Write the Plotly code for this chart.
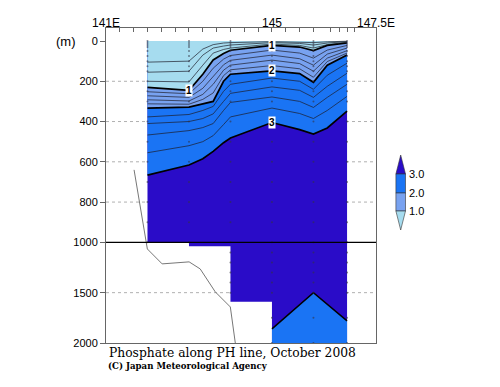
import plotly.graph_objects as go

# ---------------- data ----------------
# along-section positions (axis units; 141E = 0, 145 = 12, 147.5E = 18)
XS = [3, 6, 7, 7.75, 8.5, 9, 12, 14, 15, 16, 17.43]
# depth (m) of phosphate isolines (umol/kg) at XS
ISO_04 = [105, 100, 40, 18, 10, 8, 3, 5, 8, 4, 1]
ISO_06 = [155, 150, 70, 35, 25, 20, 8, 12, 20, 10, 3]
ISO_08 = [200, 203, 120, 60, 42, 35, 15, 22, 35, 18, 6]
ISO_10 = [230, 245, 165, 94, 62, 46, 22, 30, 48, 22, 10]
ISO_12 = [252, 262, 200, 135, 90, 72, 45, 60, 85, 45, 22]
ISO_14 = [272, 280, 235, 175, 118, 96, 70, 88, 120, 65, 35]
ISO_16 = [292, 298, 265, 215, 145, 120, 95, 112, 150, 85, 48]
ISO_18 = [312, 314, 290, 258, 172, 143, 122, 138, 180, 102, 60]
ISO_20 = [333, 328, 312, 300, 200, 165, 148, 162, 205, 120, 70]
ISO_22 = [377, 365, 345, 325, 250, 215, 184, 200, 240, 170, 110]
ISO_24 = [410, 400, 385, 362, 300, 260, 228, 245, 280, 225, 160]
ISO_26 = [467, 445, 430, 410, 345, 305, 278, 300, 330, 280, 215]
ISO_28 = [555, 520, 500, 470, 415, 377, 333, 360, 385, 345, 275]
ISO_30 = [666, 616, 585, 548, 505, 482, 405, 440, 462, 432, 348]
# deep 3.0 isoline
DEEP_X = [12, 15, 17.43]
DEEP_30 = [1860, 1500, 1780]
# data segments and their bottom depth (m)
SEG_EDGES = [3, 6, 9, 12, 17.43]
SEG_BOTTOM = [1000, 1040, 1590, 2000]
# stations and sample depths
STATIONS = [3, 6, 9, 12, 15, 17.43]
STATION_BOTTOM = [1000, 1040, 1590, 2000, 2000, 2000]
SAMPLE_DEPTHS = [0, 10, 20, 30, 50, 75, 100, 125, 150, 200, 250, 300, 400, 500,
                 600, 700, 800, 900, 1000, 1100, 1200, 1300, 1400, 1500, 1750, 2000]
# bottom topography line
BATHY_X = [2.03, 2.99, 4.06, 6.01, 6.81, 7.9, 8.99, 9.35]
BATHY_D = [640, 1066, 1214, 1194, 1264, 1492, 1642, 2000]
# axis ticks
YTICK_DEPTHS = [0, 200, 400, 600, 800, 1000, 1500, 2000]
XTICKS = list(range(0, 16)) + [16.2, 16.9, 17.43, 18]
TOP_LABELS = [(0, "141E", "center"), (12, "145", "center"), (18, "147.5E", "left")]
LEVEL_COLORS = ["#a6dcef", "#78a2f0", "#1a74f4", "#2a0cc8"]
CBAR_LABELS = ["3.0", "2.0", "1.0"]


def T(d):
    """depth (m) -> plotted coordinate (0-1000 m stretched, 1000-2000 m compressed)"""
    return d if d <= 1000 else 1000 + (d - 1000) * 0.5


fig = go.Figure()

# base (>3.0) region following the stepped bottom
bx, by = [SEG_EDGES[0]], [T(0)]
bx.append(SEG_EDGES[-1]); by.append(T(0))
for i in range(len(SEG_BOTTOM) - 1, -1, -1):
    bx += [SEG_EDGES[i + 1], SEG_EDGES[i]]
    by += [T(SEG_BOTTOM[i]), T(SEG_BOTTOM[i])]
fig.add_trace(go.Scatter(x=bx, y=by, fill="toself", fillcolor=LEVEL_COLORS[3],
                         mode="lines", line=dict(width=0), hoverinfo="skip"))


def band(level, color):
    x = XS + XS[::-1]
    y = [T(0)] * len(XS) + [T(d) for d in level[::-1]]
    fig.add_trace(go.Scatter(x=x, y=y, fill="toself", fillcolor=color, mode="lines",
                             line=dict(width=0), hoverinfo="skip"))


band(ISO_30, LEVEL_COLORS[2])
band(ISO_20, LEVEL_COLORS[1])
band(ISO_10, LEVEL_COLORS[0])

# deep low-phosphate water
dx = DEEP_X + DEEP_X[::-1]
dy = [T(d) for d in DEEP_30] + [T(2000)] * len(DEEP_X)
fig.add_trace(go.Scatter(x=dx, y=dy, fill="toself", fillcolor=LEVEL_COLORS[2],
                         mode="lines", line=dict(width=0), hoverinfo="skip"))

# thin isolines
for lev in [ISO_04, ISO_06, ISO_08, ISO_12, ISO_14, ISO_16, ISO_18,
            ISO_22, ISO_24, ISO_26, ISO_28]:
    fig.add_trace(go.Scatter(x=XS, y=[T(d) for d in lev], mode="lines",
                             line=dict(color="#1c1c2a", width=0.7), hoverinfo="skip"))
# thick isolines
for lev in [ISO_10, ISO_20, ISO_30]:
    fig.add_trace(go.Scatter(x=XS, y=[T(d) for d in lev], mode="lines",
                             line=dict(color="black", width=1.7), hoverinfo="skip"))
fig.add_trace(go.Scatter(x=DEEP_X, y=[T(d) for d in DEEP_30], mode="lines",
                         line=dict(color="black", width=1.5), hoverinfo="skip"))

# sample points
sx, sy = [], []
for s, b in zip(STATIONS, STATION_BOTTOM):
    for d in SAMPLE_DEPTHS:
        if d <= b:
            sx.append(s); sy.append(T(d))
fig.add_trace(go.Scatter(x=sx, y=sy, mode="markers",
                         marker=dict(size=2, color="#333344", opacity=0.6),
                         hoverinfo="skip"))

# bottom topography
fig.add_trace(go.Scatter(x=BATHY_X, y=[T(d) for d in BATHY_D], mode="lines",
                         line=dict(color="#777777", width=1), hoverinfo="skip"))

# plot geometry (pixels)
L, R, TOP, BOT = 106, 376, 28, 343


def PX(px):
    return (px - L) / (R - L)


def PY(py):
    return (BOT - py) / (BOT - TOP)


shapes = []
for d in [200, 400, 600, 800, 1500]:
    shapes.append(dict(type="line", xref="paper", yref="y", x0=0, x1=1, y0=T(d), y1=T(d),
                       line=dict(color="#b0b0b0", width=1, dash="dot"), layer="below"))
shapes.append(dict(type="line", xref="paper", yref="y", x0=0, x1=1, y0=T(1000), y1=T(1000),
                   line=dict(color="black", width=1.3), layer="above"))

# colour key
cx, hw = 400.7, 4.8
ys = [155, 174, 193, 211, 230]
cols = [LEVEL_COLORS[3], LEVEL_COLORS[2], LEVEL_COLORS[1], LEVEL_COLORS[0]]
shapes.append(dict(type="path", xref="paper", yref="paper",
                   path=f"M {PX(cx)} {PY(ys[0])} L {PX(cx+hw)} {PY(ys[1])} L {PX(cx-hw)} {PY(ys[1])} Z",
                   fillcolor=cols[0], line=dict(width=0.6, color="#333")))
for i in (1, 2):
    shapes.append(dict(type="rect", xref="paper", yref="paper",
                       x0=PX(cx - hw), x1=PX(cx + hw), y0=PY(ys[i + 1]), y1=PY(ys[i]),
                       fillcolor=cols[i], line=dict(width=0.6, color="#333")))
shapes.append(dict(type="path", xref="paper", yref="paper",
                   path=f"M {PX(cx-hw)} {PY(ys[3])} L {PX(cx+hw)} {PY(ys[3])} L {PX(cx)} {PY(ys[4])} Z",
                   fillcolor=cols[3], line=dict(width=0.6, color="#333")))

ann = []
for yy, lab in zip(ys[1:4], CBAR_LABELS):
    ann.append(dict(xref="paper", yref="paper", x=PX(406.5), y=PY(yy), text=lab,
                    showarrow=False, xanchor="left", yanchor="middle",
                    font=dict(family="Liberation Sans, Arial", size=11, color="black")))
for xv, lab, anc in TOP_LABELS:
    ann.append(dict(xref="x", yref="paper", x=xv, y=PY(22.5), text=lab, showarrow=False,
                    xanchor=anc, yanchor="middle",
                    font=dict(family="Liberation Sans, Arial", size=12, color="black")))
ann.append(dict(xref="paper", yref="paper", x=PX(66), y=PY(41.5), text="(m)", showarrow=False,
                xanchor="center", yanchor="middle",
                font=dict(family="Liberation Sans, Arial", size=13, color="black")))
ann.append(dict(xref="paper", yref="paper", x=PX(106.5), y=PY(353), showarrow=False,
                text="Phosphate along PH line, October 2008", xanchor="left", yanchor="middle",
                font=dict(family="DejaVu Serif", size=12.3, color="black")))
ann.append(dict(xref="paper", yref="paper", x=PX(105.5), y=PY(366), showarrow=False,
                text="<b>(C) Japan Meteorological Agency</b>", xanchor="left", yanchor="middle",
                font=dict(family="DejaVu Serif", size=8.6, color="black")))
# contour labels
for xv, yv, lab in [(XS[1], ISO_10[1], "1"), (XS[6], ISO_10[6], "1"),
                    (XS[6], ISO_20[6], "2"), (XS[6], ISO_30[6], "3")]:
    ann.append(dict(x=xv, y=T(yv), text=f"<b>{lab}</b>", showarrow=False, bgcolor="white",
                    borderpad=0, xanchor="center", yanchor="middle",
                    font=dict(family="Liberation Sans, Arial", size=10, color="black")))

fig.update_layout(
    width=500, height=387,
    margin=dict(l=L, r=500 - R, t=TOP, b=387 - BOT, autoexpand=False),
    paper_bgcolor="white", plot_bgcolor="white", showlegend=False,
    shapes=shapes, annotations=ann,
    xaxis=dict(range=[0, (R - L) / 13.83], side="top", tickvals=XTICKS, showticklabels=False,
               ticks="inside", ticklen=4, tickcolor="#666", showgrid=False, zeroline=False,
               showline=True, mirror=True, linecolor="#666", linewidth=1, automargin=False),
    yaxis=dict(range=[T(2000), -64.6], tickvals=[T(d) for d in YTICK_DEPTHS],
               ticktext=[str(d) for d in YTICK_DEPTHS], ticks="outside", ticklen=5,
               tickcolor="#666", showgrid=False, zeroline=False, showline=True, mirror=True,
               linecolor="#666", linewidth=1, automargin=False,
               tickfont=dict(family="Liberation Sans, Arial", size=11, color="black")),
)

fig.write_html("out.html", config={"displayModeBar": False},
               post_script="document.body.style.margin='0';document.body.style.overflow='hidden';")
